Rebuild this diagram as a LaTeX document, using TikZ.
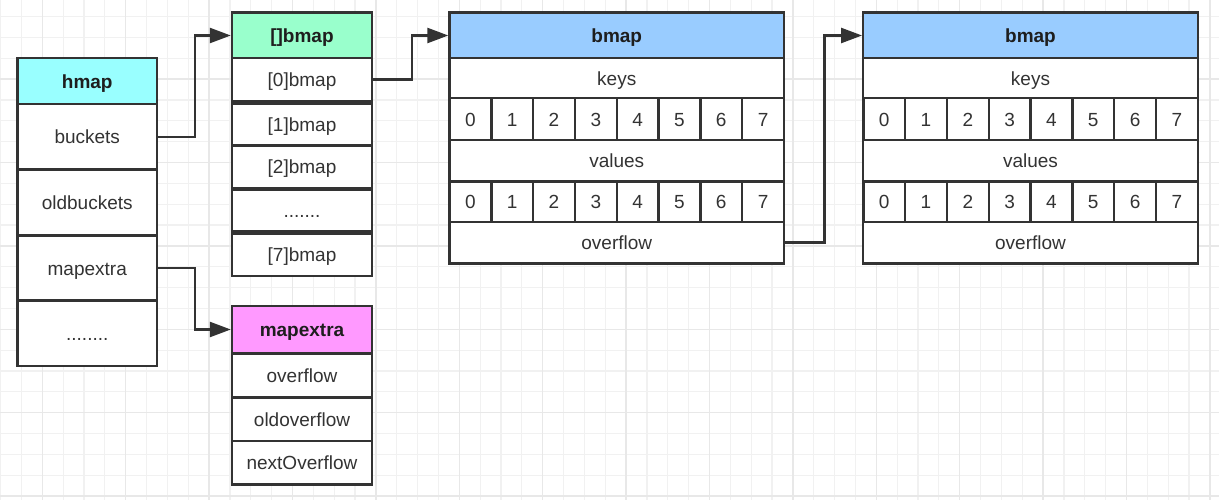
\documentclass[tikz,border=0pt]{standalone}
\usepackage{fontspec}
\setmainfont{Liberation Sans}
\usetikzlibrary{arrows.meta}
\definecolor{linec}{HTML}{333333}
\definecolor{txtc}{HTML}{333333}
\definecolor{hdrtxt}{HTML}{1E1E1E}
\definecolor{cyanh}{HTML}{99FFFF}
\definecolor{minth}{HTML}{99FFCC}
\definecolor{blueh}{HTML}{99CCFF}
\definecolor{pinkh}{HTML}{FF99FF}
\definecolor{gridminor}{HTML}{F1F1F1}
\definecolor{gridmajor}{HTML}{E8E8E8}
\tikzset{
  cell/.style={draw=linec, line width=2.4pt, fill=white, inner sep=0pt,
    text height=16pt, text depth=2pt,
    text=txtc, font=\fontsize{19}{21}\selectfont},
  hdr/.style={cell, text=hdrtxt, font=\fontsize{19}{21}\selectfont\bfseries},
  arr/.style={draw=linec, line width=2.4pt, -{Triangle[length=21pt,width=15pt]}},
  gminor/.style={draw=gridminor, line width=1.2pt},
  gmajor/.style={draw=gridmajor, line width=1.5pt}
}
\begin{document}
\begin{tikzpicture}[x=1pt,y=-1pt]
\useasboundingbox (0,0) rectangle (1219,500);
\fill[white] (0,0) rectangle (1219,500);
% grid
\foreach \i in {0,...,58} \draw[gminor] ({0.6+\i*20.85},0) -- ({0.6+\i*20.85},500);
\foreach \i in {0,...,24} \draw[gminor] (0,{-4.3+\i*20.85}) -- (1219,{-4.3+\i*20.85});
\foreach \i in {0,...,14} \draw[gmajor] ({42.3+\i*83.4},0) -- ({42.3+\i*83.4},500);
\foreach \i in {0,...,5} \draw[gmajor] (0,{79.1+\i*83.4}) -- (1219,{79.1+\i*83.4});

% hmap
\node[hdr, fill=cyanh, minimum width=139.5pt, minimum height=45.7pt] (hhdr) at (87.25,81.15) {hmap};
\node[cell, minimum width=139.5pt, minimum height=65.5pt] (buckets) at (87.25,136.75) {buckets};
\node[cell, minimum width=139.5pt, minimum height=66pt] (oldbuckets) at (87.25,202.5) {oldbuckets};
\node[cell, minimum width=139.5pt, minimum height=65pt] (hmx) at (87.25,268) {mapextra};
\node[cell, minimum width=139.5pt, minimum height=65.5pt] (hdots) at (87.25,333.25) {........};

% []bmap
\node[hdr, fill=minth, minimum width=140pt, minimum height=45.6pt] (bhdr) at (302,35.5) {[]bmap};
\node[cell, minimum width=140pt, minimum height=42.7pt] (b0) at (302,79.65) {[0]bmap};
\node[cell, minimum width=140pt, minimum height=42.5pt] (b1) at (302,124.75) {[1]bmap};
\node[cell, minimum width=140pt, minimum height=42.6pt] (b2) at (302,167) {[2]bmap};
\node[cell, minimum width=140pt, minimum height=41pt] (bdots) at (302,210.5) {.......};
\node[cell, minimum width=140pt, minimum height=42.4pt] (b7) at (302,254.5) {[7]bmap};

% mapextra
\node[hdr, fill=pinkh, minimum width=140pt, minimum height=47.6pt] (mxhdr) at (302,329.5) {mapextra};
\node[cell, minimum width=140pt, minimum height=43.4pt] (mxov) at (302,375) {overflow};
\node[cell, minimum width=140pt, minimum height=43pt] (mxold) at (302,419.5) {oldoverflow};
\node[cell, minimum width=140pt, minimum height=43.3pt] (mxnext) at (302,462.65) {nextOverflow};

% bmap boxes
\foreach \p/\cx/\lx in {m1/616.75/449.5, m2/1030.5/863.3} {
  \node[hdr, fill=blueh, minimum width=334.5pt, minimum height=45.6pt] (\p hdr) at (\cx,35.5) {bmap};
  \node[cell, minimum width=334.5pt, minimum height=40pt] (\p keys) at (\cx,78.3) {keys};
  \foreach \k in {0,...,7}
    \node[cell, minimum width=41.81pt, minimum height=41.7pt] (\p k\k) at ({\lx+20.905+\k*41.81},119.15) {\k};
  \node[cell, minimum width=334.5pt, minimum height=41.7pt] (\p vals) at (\cx,160.85) {values};
  \foreach \k in {0,...,7}
    \node[cell, minimum width=41.81pt, minimum height=40pt] (\p v\k) at ({\lx+20.905+\k*41.81},201.7) {\k};
  \node[cell, minimum width=334.5pt, minimum height=41.6pt] (\p ov) at (\cx,242.5) {overflow};
}

% connectors
\draw[arr] (buckets.east) -- ++(37,0) |- (bhdr.west);
\draw[arr] (b0.east) -- ++(38.7,0) |- (m1hdr.west);
\draw[arr] (hmx.east) -- ++(37,0) |- (mxhdr.west);
\draw[arr] (m1ov.east) -- ++(39.3,0) |- (m2hdr.west);
\end{tikzpicture}
\end{document}
